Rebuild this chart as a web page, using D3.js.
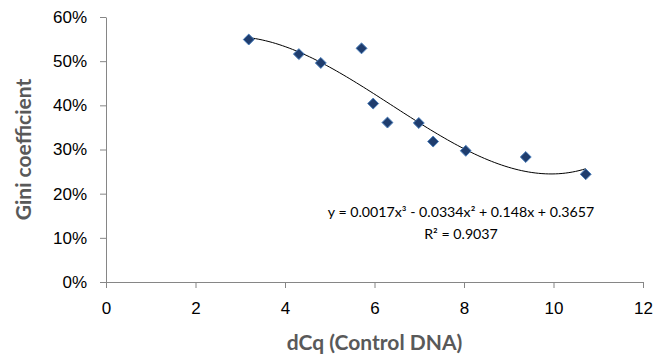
<!DOCTYPE html>
<html>
<head>
<meta charset="utf-8">
<script src="https://cdn.jsdelivr.net/npm/d3@7"></script>
<style>
	body { margin: 0; background: #fff; }
	svg { display: block; font-family: Lato, "Open Sans", sans-serif; }
	.tick text { font-size: 17px; fill: #000; }
	.domain, .tick line { stroke: #868686; }
</style>
</head>
<body>
<div id="chart"></div>
<script>
// ---------- DATA ----------
const dCq = [3.19, 4.31, 4.80, 5.71, 5.97, 6.29, 6.99, 7.31, 8.04, 9.38, 10.72];
const gini = [0.549, 0.516, 0.496, 0.529, 0.404, 0.361, 0.360, 0.318, 0.297, 0.283, 0.244];
const xTicks = [0, 2, 4, 6, 8, 10, 12];
const yTicks = [0, 0.1, 0.2, 0.3, 0.4, 0.5, 0.6];
const equationText = ["y = 0.0017x³ - 0.0334x² + 0.148x + 0.3657", "R² = 0.9037"];

const size = { w: 655, h: 356 };
const margin = { top: 17, right: 12, bottom: 74, left: 106 };

const svg = d3
	.select("#chart")
	.append("svg")
	.attr("width", size.w)
	.attr("height", size.h);

const xScale = d3
	.scaleLinear()
	.domain([0, 12])
	.range([margin.left, size.w - margin.right]);
const yScale = d3
	.scaleLinear()
	.domain([0, 0.6])
	.range([size.h - margin.bottom, margin.top]);

// axes
svg
	.append("g")
	.attr("transform", `translate(0, ${size.h - margin.bottom})`)
	.call(d3.axisBottom(xScale).tickValues(xTicks).tickSize(6).tickPadding(14).tickSizeOuter(0));

svg
	.append("g")
	.attr("transform", `translate(${margin.left}, 0)`)
	.call(
		d3.axisLeft(yScale).tickValues(yTicks).tickSize(6).tickPadding(13).tickSizeOuter(0)
			.tickFormat(d3.format(".0%"))
	);

// least squares cubic trendline (like the spreadsheet's polynomial fit)
function polyFit(xs, ys, order) {
	const n = order + 1;
	const A = [];
	for (let r = 0; r < n; r++) {
		A[r] = [];
		for (let c = 0; c < n; c++) A[r][c] = d3.sum(xs, (x) => Math.pow(x, r + c));
		A[r][n] = d3.sum(xs, (x, i) => Math.pow(x, r) * ys[i]);
	}
	for (let i = 0; i < n; i++) {
		let p = i;
		for (let k = i + 1; k < n; k++) if (Math.abs(A[k][i]) > Math.abs(A[p][i])) p = k;
		[A[i], A[p]] = [A[p], A[i]];
		for (let k = i + 1; k < n; k++) {
			const f = A[k][i] / A[i][i];
			for (let j = i; j <= n; j++) A[k][j] -= f * A[i][j];
		}
	}
	const coef = new Array(n).fill(0);
	for (let i = n - 1; i >= 0; i--) {
		let s = A[i][n];
		for (let j = i + 1; j < n; j++) s -= A[i][j] * coef[j];
		coef[i] = s / A[i][i];
	}
	return coef;
}
const coef = polyFit(dCq, gini, 3);
const xMin = d3.min(dCq), xMax = d3.max(dCq);
const trend = d3.range(0, 101).map((i) => {
	const x = xMin + ((xMax - xMin) * i) / 100;
	return [x, coef[0] + coef[1] * x + coef[2] * x * x + coef[3] * x * x * x];
});

svg
	.append("path")
	.datum(trend)
	.attr("fill", "none")
	.attr("stroke", "#000")
	.attr("stroke-width", 1)
	.attr("d", d3.line().x((d) => xScale(d[0])).y((d) => yScale(d[1])).curve(d3.curveMonotoneX));

// points
svg
	.append("g")
	.selectAll("path")
	.data(dCq.map((x, i) => [x, gini[i]]))
	.join("path")
	.attr("d", d3.symbol(d3.symbolDiamond2, 76))
	.attr("transform", (d) => `translate(${xScale(d[0])}, ${yScale(d[1])})`)
	.attr("fill", "#1f3d6e")
	.attr("stroke", "#4a7ebb")
	.attr("stroke-width", 1);

// equation label
svg
	.append("g")
	.selectAll("text")
	.data(equationText)
	.join("text")
	.attr("x", 461)
	.attr("y", (d, i) => 217 + i * 22)
	.attr("text-anchor", "middle")
	.attr("font-size", 14.2)
	.attr("fill", "#000")
	.text((d) => d);

// axis titles
svg
	.append("text")
	.attr("x", (margin.left + size.w - margin.right) / 2)
	.attr("y", 350)
	.attr("text-anchor", "middle")
	.attr("font-size", 21)
	.attr("font-weight", "bold")
	.attr("fill", "#595959")
	.text("dCq (Control DNA)");

svg
	.append("text")
	.attr("transform", `translate(31, ${(margin.top + size.h - margin.bottom) / 2}) rotate(-90)`)
	.attr("text-anchor", "middle")
	.attr("font-size", 21)
	.attr("font-weight", "bold")
	.attr("fill", "#595959")
	.text("Gini coefficient");
</script>
</body>
</html>
